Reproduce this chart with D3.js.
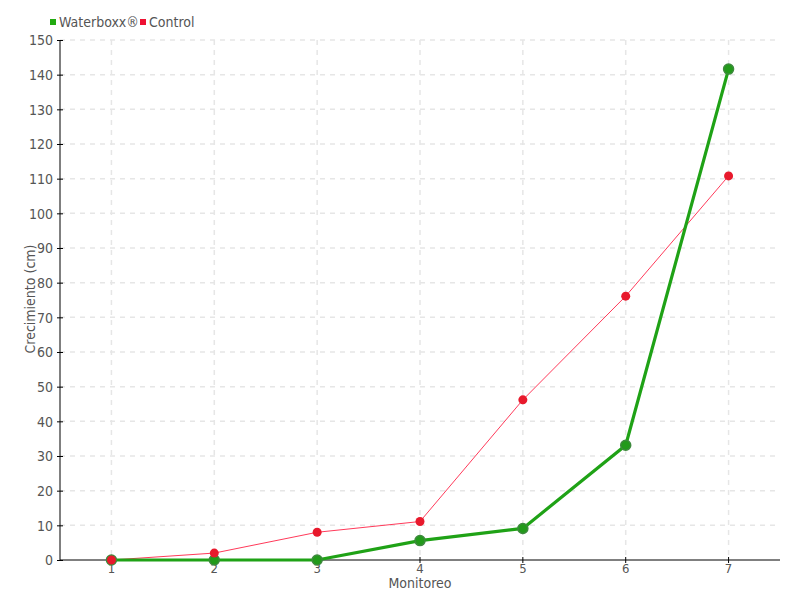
<!DOCTYPE html>
<html><head><meta charset="utf-8">
<script src="https://cdn.jsdelivr.net/npm/d3@7"></script>
<style>
body{margin:0;background:#fff;}
text{font-family:"DejaVu Sans Condensed","DejaVu Sans",sans-serif;font-stretch:condensed;fill:#555;}
</style></head>
<body><svg id="c" width="800" height="600"></svg>
<script>
const categories = ["1","2","3","4","5","6","7"];
const waterboxx = [0, 0, 0, 5.6, 9.1, 33.1, 141.6];
const control = [0, 2, 8, 11.1, 46.2, 76.1, 110.8];
const yTicks = d3.range(0, 151, 10);
const seriesNames = ["Waterboxx®", "Control"];

const svg = d3.select("#c");
const m = {l:60, r:20, t:40, b:40};
const W = 800, H = 600;
const x = d3.scaleBand().domain(categories).range([m.l, W - m.r]);
const y = d3.scaleLinear().domain([0,150]).range([H - m.b, m.t]);
const cx = d => x(d) + x.bandwidth()/2;

// grid
svg.append("g").selectAll("line").data(yTicks.slice(1)).join("line")
  .attr("x1", m.l).attr("x2", W - m.r).attr("y1", d=>y(d)).attr("y2", d=>y(d))
  .attr("stroke", "#e6e6e6").attr("stroke-dasharray","5,5").attr("stroke-width",1.5);
svg.append("g").selectAll("line").data(categories).join("line")
  .attr("x1", d=>cx(d)).attr("x2", d=>cx(d)).attr("y1", m.t).attr("y2", H - m.b)
  .attr("stroke", "#e6e6e6").attr("stroke-dasharray","5,5").attr("stroke-width",1.5);

// axes
const yAxis = svg.append("g").attr("transform", `translate(${m.l},0)`)
  .call(d3.axisLeft(y).tickValues(yTicks).tickSize(3).tickPadding(4));
yAxis.selectAll(".tick line").attr("x2", 3).attr("x1",-3).attr("stroke","#000");
yAxis.select(".domain").attr("d", `M0,${m.t}V${H-m.b}`).attr("stroke","#000");
yAxis.selectAll("text").style("font-size","14px").attr("fill","#555").attr("dy","0.35em");

const xAxis = svg.append("g").attr("transform", `translate(0,${H-m.b})`)
  .call(d3.axisBottom(x).tickSize(3).tickPadding(1));
xAxis.selectAll(".tick line").attr("y1",-3).attr("y2",3).attr("stroke","#000");
xAxis.select(".domain").attr("d", `M${m.l},0H${W-m.r}`).attr("stroke","#000");
xAxis.selectAll("text").style("font-size","13px").attr("fill","#555");

// axis titles
svg.append("text").attr("x", 420).attr("y", 588).attr("text-anchor","middle")
  .style("font-size","14px").text("Monitoreo");
svg.append("text").attr("transform","translate(35,299) rotate(-90)").attr("text-anchor","middle")
  .style("font-size","14px").text("Crecimiento (cm)");

// lines
const line = vals => d3.line().x((d,i)=>cx(categories[i])).y(d=>y(d))(vals);
svg.append("path").attr("d", line(control)).attr("fill","none").attr("stroke","#ff3a5a").attr("stroke-width",1);
svg.append("path").attr("d", line(waterboxx)).attr("fill","none").attr("stroke","#1fa216").attr("stroke-width",3.2);

svg.append("g").selectAll("circle").data(waterboxx).join("circle")
  .attr("cx",(d,i)=>cx(categories[i])).attr("cy",d=>y(d)).attr("r",5)
  .attr("fill","#229a1a").attr("stroke","#3d8a3d").attr("stroke-width",1.5);
svg.append("g").selectAll("circle").data(control).join("circle")
  .attr("cx",(d,i)=>cx(categories[i])).attr("cy",d=>y(d)).attr("r",4.5)
  .attr("fill","#e8192c");

// legend
const lg = svg.append("g");
const legColors = ["#22aa11","#ee1133"];
const legX = [50, 140];
seriesNames.forEach((n,i)=>{
  lg.append("rect").attr("x",legX[i]).attr("y",19).attr("width",6).attr("height",6).attr("fill",legColors[i]);
  lg.append("text").attr("x",legX[i]+9).attr("y",27).style("font-size","14px").text(n);
});
</script></body></html>
